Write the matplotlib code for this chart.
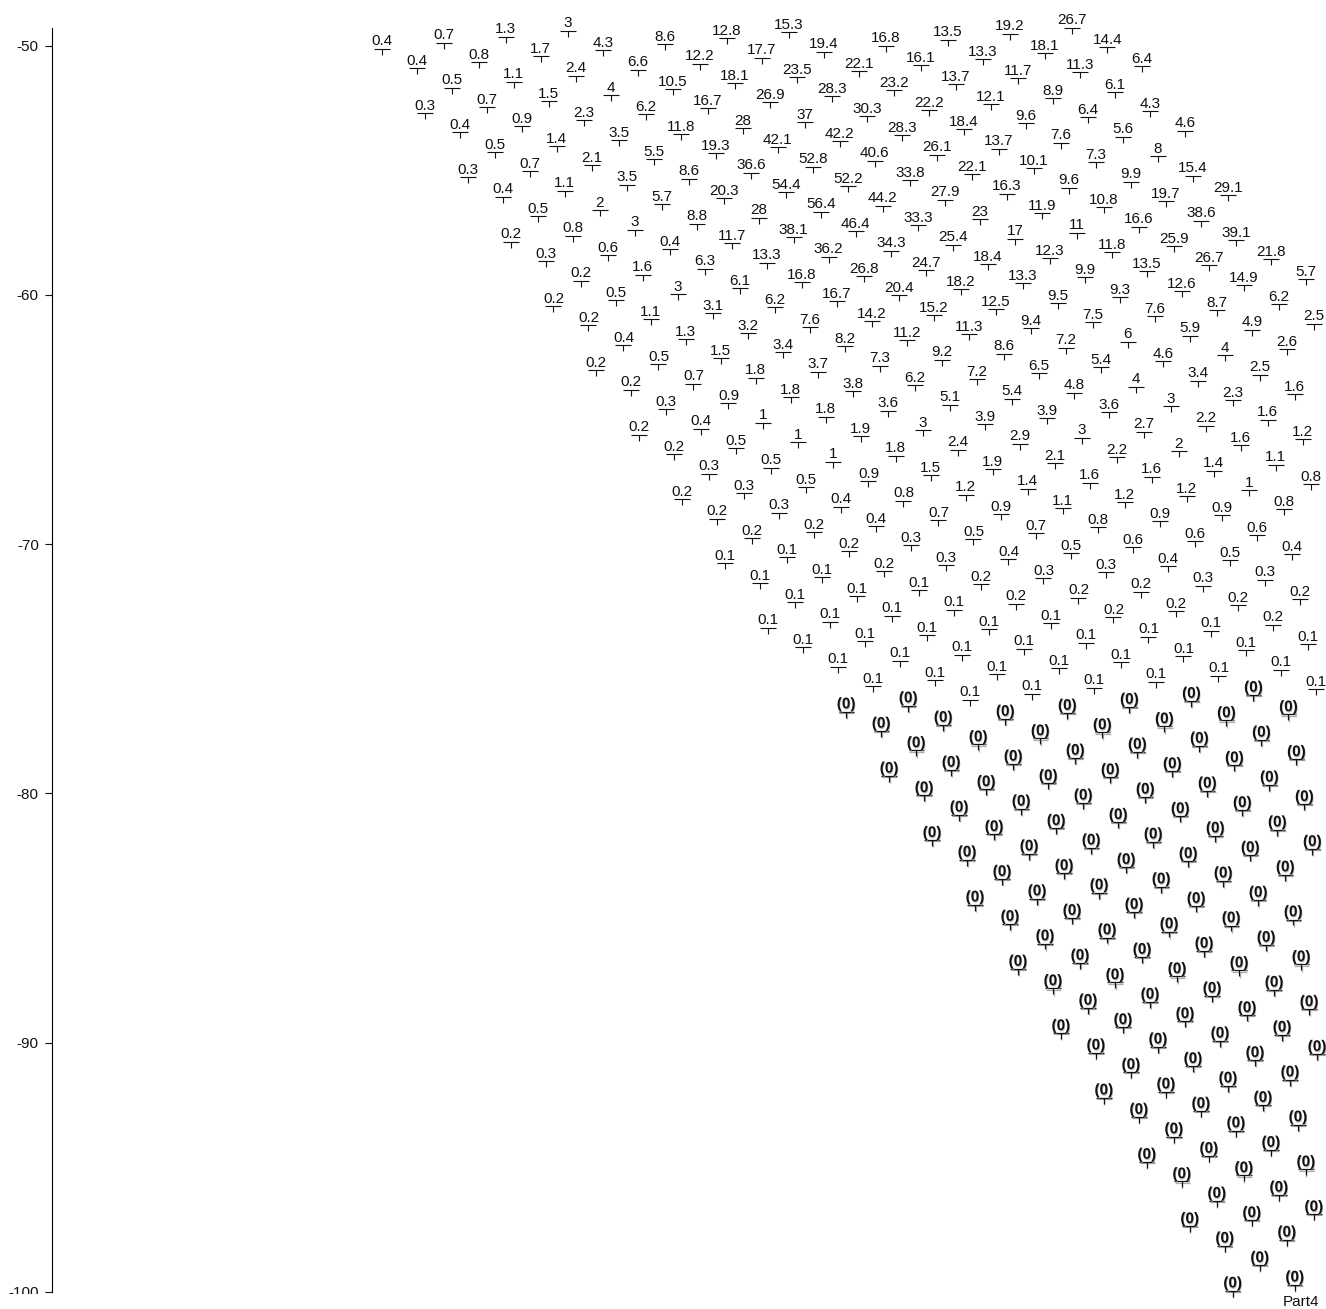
import numpy as np
import matplotlib
matplotlib.use("Agg")
import matplotlib.pyplot as plt
from matplotlib.path import Path
from matplotlib.transforms import Bbox
import matplotlib.patheffects as pe

plt.rcParams['font.family'] = ['Liberation Sans', 'DejaVu Sans']
plt.rcParams['axes.unicode_minus'] = False

# ---------------- data ----------------
# The points sit on a sheared grid; each list below is one diagonal line of
# the grid (constant index i), starting at row index j0.
d_p10 = [26.7, 14.4, 6.4]
d_p9 = [19.2, 18.1, 11.3, 6.1, 4.3, 4.6]
d_p8 = [13.5, 13.3, 11.7, 8.9, 6.4, 5.6, 8, 15.4, 29.1]
d_p7 = [16.8, 16.1, 13.7, 12.1, 9.6, 7.6, 7.3, 9.9, 19.7, 38.6, 39.1, 21.8, 5.7]
d_p6 = [15.3, 19.4, 22.1, 23.2, 22.2, 18.4, 13.7, 10.1, 9.6, 10.8, 16.6, 25.9,
        26.7, 14.9, 6.2, 2.5]
d_p5 = [12.8, 17.7, 23.5, 28.3, 30.3, 28.3, 26.1, 22.1, 16.3, 11.9, 11, 11.8,
        13.5, 12.6, 8.7, 4.9, 2.6]
d_p4 = [8.6, 12.2, 18.1, 26.9, 37, 42.2, 40.6, 33.8, 27.9, 23, 17, 12.3, 9.9,
        9.3, 7.6, 5.9, 4, 2.5, 1.6]
d_p3 = [3, 4.3, 6.6, 10.5, 16.7, 28, 42.1, 52.8, 52.2, 44.2, 33.3, 25.4, 18.4,
        13.3, 9.5, 7.5, 6, 4.6, 3.4, 2.3, 1.6, 1.2]
d_p2 = [1.3, 1.7, 2.4, 4, 6.2, 11.8, 19.3, 36.6, 54.4, 56.4, 46.4, 34.3, 24.7,
        18.2, 12.5, 9.4, 7.2, 5.4, 4, 3, 2.2, 1.6, 1.1, 0.8]
d_p1 = [0.7, 0.8, 1.1, 1.5, 2.3, 3.5, 5.5, 8.6, 20.3, 28, 38.1, 36.2, 26.8,
        20.4, 15.2, 11.3, 8.6, 6.5, 4.8, 3.6, 2.7, 2, 1.4, 1, 0.8]
d_0 = [0.4, 0.4, 0.5, 0.7, 0.9, 1.4, 2.1, 3.5, 5.7, 8.8, 11.7, 13.3, 16.8,
       16.7, 14.2, 11.2, 9.2, 7.2, 5.4, 3.9, 3, 2.2, 1.6, 1.2, 0.9, 0.6, 0.4]
d_m1 = [0.3, 0.4, 0.5, 0.7, 1.1, 2, 3, 0.4, 6.3, 6.1, 6.2, 7.6, 8.2, 7.3, 6.2,
        5.1, 3.9, 2.9, 2.1, 1.6, 1.2, 0.9, 0.6, 0.5, 0.3, 0.2]
d_m2 = [0.3, 0.4, 0.5, 0.8, 0.6, 1.6, 3, 3.1, 3.2, 3.4, 3.7, 3.8, 3.6, 3, 2.4,
        1.9, 1.4, 1.1, 0.8, 0.6, 0.4, 0.3, 0.2, 0.2, 0.1]
d_m3 = [0.2, 0.3, 0.2, 0.5, 1.1, 1.3, 1.5, 1.8, 1.8, 1.8, 1.9, 1.8, 1.5, 1.2,
        0.9, 0.7, 0.5, 0.3, 0.2, 0.2, 0.1, 0.1, 0.1, 0.1]
d_m4 = [0.2, 0.2, 0.4, 0.5, 0.7, 0.9, 1, 1, 1, 0.9, 0.8, 0.7, 0.5, 0.4, 0.3,
        0.2, 0.2, 0.1, 0.1, 0.1, 0, 0]
d_m5 = [0.2, 0.2, 0.3, 0.4, 0.5, 0.5, 0.5, 0.4, 0.4, 0.3, 0.3, 0.2, 0.2, 0.1,
        0.1, 0.1, 0.1, 0, 0, 0, 0]
d_m6 = [0.2, 0.2, 0.3, 0.3, 0.3, 0.2, 0.2, 0.2, 0.1, 0.1, 0.1, 0.1, 0.1, 0.1,
        0, 0, 0, 0, 0, 0]
d_m7 = [0.2, 0.2, 0.2, 0.1, 0.1, 0.1, 0.1, 0.1, 0.1, 0.1, 0.1,
        0, 0, 0, 0, 0, 0, 0, 0]
d_m8 = [0.1, 0.1, 0.1, 0.1, 0.1, 0.1, 0.1, 0.1,
        0, 0, 0, 0, 0, 0, 0, 0, 0]
d_m9 = [0.1, 0.1, 0.1, 0.1, 0, 0, 0, 0, 0, 0, 0, 0, 0, 0, 0, 0]
d_m10 = [0, 0, 0, 0, 0, 0, 0, 0, 0, 0, 0, 0, 0, 0]
d_m11 = [0, 0, 0, 0, 0, 0, 0, 0, 0, 0, 0, 0, 0]
d_m12 = [0, 0, 0, 0, 0, 0, 0, 0, 0, 0, 0, 0]
d_m13 = [0, 0, 0, 0, 0, 0, 0, 0, 0, 0]
d_m14 = [0, 0, 0, 0, 0, 0, 0, 0, 0]
d_m15 = [0, 0, 0, 0, 0, 0, 0, 0]
d_m16 = [0, 0, 0, 0, 0, 0, 0]
d_m17 = [0, 0, 0, 0, 0]
d_m18 = [0, 0, 0, 0]
d_m19 = [0]

line_i = [10, 9, 8, 7, 6, 5, 4, 3, 2, 1, 0, -1, -2, -3, -4, -5, -6, -7, -8,
          -9, -10, -11, -12, -13, -14, -15, -16, -17, -18, -19]
line_j0 = [2, 2, 2, 2, 1, 1, 1, 0, 0, 0, 0, 3, 6, 9, 12, 15, 18, 21, 24, 27,
           31, 34, 37, 40, 43, 46, 49, 52, 55, 58]
line_vals = [d_p10, d_p9, d_p8, d_p7, d_p6, d_p5, d_p4, d_p3, d_p2, d_p1, d_0,
             d_m1, d_m2, d_m3, d_m4, d_m5, d_m6, d_m7, d_m8, d_m9, d_m10,
             d_m11, d_m12, d_m13, d_m14, d_m15, d_m16, d_m17, d_m18, d_m19]

y_ticks = [-50, -60, -70, -80, -90, -100]
last_label = "Part4"

# grid geometry (data units)
ORIGIN = np.array([13.218, -50.1164])
STEP_I = np.array([2.4900, 0.24077])
STEP_J = np.array([1.40449, -0.78050])

# ---------------- build points ----------------
xs, ys, vals = [], [], []
for i, j0, vv in zip(line_i, line_j0, line_vals):
    for k, v in enumerate(vv):
        j = j0 + k
        p = ORIGIN + i * STEP_I + j * STEP_J
        xs.append(p[0]); ys.append(p[1]); vals.append(v)
xs = np.array(xs); ys = np.array(ys); vals = np.array(vals)

# ---------------- figure ----------------
W, H = 1326, 1309
FS = 11
fig = plt.figure(figsize=(W / 100, H / 100), dpi=100)
ax = fig.add_axes([52.3 / W, 17.3 / H, (W - 52.3) / W, (1291.7 - 28) / H])
ax.set_xlim(0, (W - 52.3) / 24.92)
ax.set_ylim(-100, -50 + 17.7 / 24.92)

for s in ['top', 'right', 'bottom']:
    ax.spines[s].set_visible(False)
ax.spines['left'].set_linewidth(0.8)
ax.set_xticks([])
ax.set_yticks(y_ticks)
ax.set_yticklabels([str(t) for t in y_ticks])
ax.tick_params(axis='y', length=4.75, width=0.8, pad=5.0, labelsize=FS,
               colors='#111111')

# the lowest tick label is cut off just under its tick, as in the source
fig.canvas.draw()
clip_box = Bbox.from_extents(0, H - 1293.5, W, H)
for lab in ax.get_yticklabels():
    lab.set_clip_box(clip_box)
    lab.set_clip_on(True)

# T-shaped marker: bar on the point, short stem below
t_path = Path([(-7.65, 0), (7.65, 0), (0, 0), (0, -6.0)],
              [Path.MOVETO, Path.LINETO, Path.MOVETO, Path.LINETO])

nz = vals != 0
ax.plot(xs[nz], ys[nz], linestyle='none', marker=t_path, markersize=11,
        mec='#111111', mfc='none', mew=0.8, clip_on=False)
ax.plot(xs[~nz], ys[~nz], linestyle='none', marker=t_path, markersize=11,
        mec='#111111', mfc='none', mew=0.9, clip_on=False,
        path_effects=[pe.SimpleLineShadow(offset=(0.4, -0.8),
                                          shadow_color='#9a9a9a', alpha=0.8),
                      pe.Normal()])

shadow = [pe.withSimplePatchShadow(offset=(0.4, -0.9),
                                   shadow_rgbFace='#a0a0a0', alpha=0.8)]
for x, y, v in zip(xs, ys, vals):
    if v == 0:
        ax.annotate("(0)", (x, y), xytext=(0, 2.4), textcoords='offset points',
                    ha='center', va='baseline', fontsize=FS,
                    fontweight='bold', color='#111111', path_effects=shadow,
                    annotation_clip=False)
    else:
        ax.annotate(f"{v:g}", (x, y), xytext=(0, 2.4),
                    textcoords='offset points', ha='center', va='baseline',
                    fontsize=FS, color='#111111', annotation_clip=False)

# label under the final point
ax.annotate(last_label, (xs[-2], ys[-2]), xytext=(4.3, -15.0),
            textcoords='offset points', ha='center', va='baseline',
            fontsize=FS, color='#111111', annotation_clip=False)

fig.savefig('out.png', dpi=100)
